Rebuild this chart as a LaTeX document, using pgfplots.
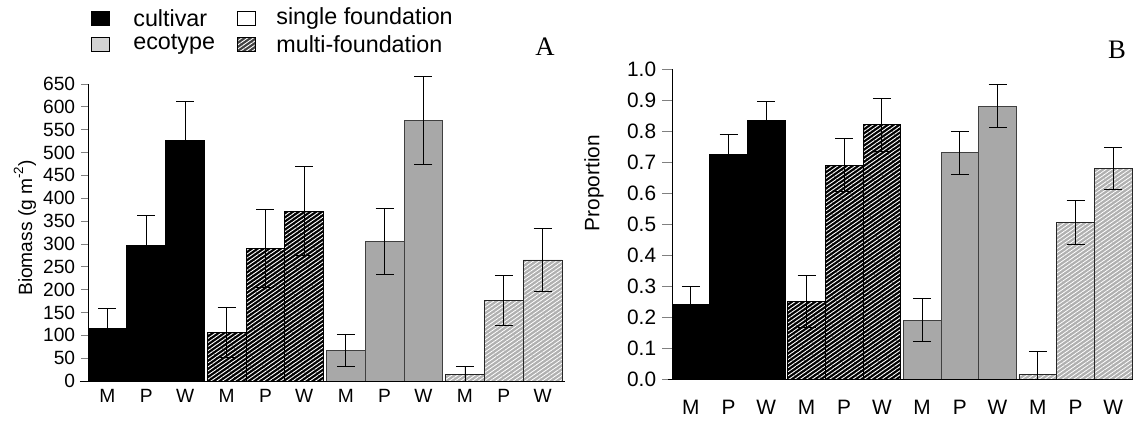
\documentclass[border=0pt]{standalone}
\usepackage{fontspec}
\setmainfont{Liberation Sans}
\newfontfamily\seriffont{Liberation Serif}
\usepackage{pgfplots}
\usepackage{pgfplotstable}
\pgfplotsset{compat=1.18}
\usetikzlibrary{patterns.meta}

\definecolor{ecogray}{HTML}{A8A8A8}
\definecolor{ecolight}{HTML}{D3D3D3}
\definecolor{emgray}{HTML}{B0B0B0}

% Biomass (panel A): x, mean, error up, error down
\pgfplotstableread{
x y ep en
0.5 115 43 43
1.5 297 65 65
2.5 527 85 85
}\Acs
\pgfplotstableread{
x y ep en
3.57 107 55 55
4.57 290 85 85
5.57 372 98 98
}\Acm
\pgfplotstableread{
x y ep en
6.64 67 36 36
7.64 305 72 72
8.64 570 97 97
}\Aes
\pgfplotstableread{
x y ep en
9.71 15 18 15
10.71 176 55 55
11.71 265 68 68
}\Aem
% Proportion (panel B)
\pgfplotstableread{
x y ep en
0.5 0.24 0.06 0.06
1.5 0.725 0.065 0.065
2.5 0.835 0.06 0.06
}\Bcs
\pgfplotstableread{
x y ep en
3.57 0.25 0.085 0.085
4.57 0.69 0.085 0.085
5.57 0.82 0.085 0.085
}\Bcm
\pgfplotstableread{
x y ep en
6.64 0.19 0.07 0.07
7.64 0.73 0.07 0.07
8.64 0.88 0.07 0.07
}\Bes
\pgfplotstableread{
x y ep en
9.71 0.015 0.075 0.015
10.71 0.505 0.07 0.07
11.71 0.68 0.068 0.068
}\Bem

\pgfplotsset{
  errs/.style={error bars/.cd, y dir=both, y explicit,
    error mark=|,
    error bar style={black, line width=0.5pt, solid},
    error mark options={black, mark size=5.4pt, line width=0.5pt}},
  cs/.style={ybar, bar width=1, fill=black, draw=black, line width=0.5pt, errs},
  cm/.style={ybar, bar width=1, fill=black, draw=black, line width=0.5pt,
    postaction={pattern color=white, pattern={Lines[angle=35,distance=2pt,line width=0.55pt]}}, errs},
  es/.style={ybar, bar width=1, fill=ecogray, draw=black!75, line width=0.5pt, errs},
  em/.style={ybar, bar width=1, fill=emgray, draw=black!85, line width=0.5pt,
    postaction={pattern color=white, pattern={Lines[angle=35,distance=2pt,line width=0.5pt]}}, errs},
  panel/.style={
    anchor=south west, scale only axis, clip=false,
    xmin=0, xmax=12.21, ymin=0,
    axis lines*=left,
    x axis line style={draw=none},
    y axis line style={-, line width=0.5pt},
    xtick={0.5,1.5,2.5,3.57,4.57,5.57,6.64,7.64,8.64,9.71,10.71,11.71},
    xticklabels={M,P,W,M,P,W,M,P,W,M,P,W},
    xtick style={draw=none},
    ytick style={line width=0.5pt},
    tick align=outside,
    /pgf/number format/assume math mode=true,
    tick label style={font=\fontsize{11.5}{13}\selectfont},
  },
}

\begin{document}
\begin{tikzpicture}
\path[use as bounding box] (0,0) rectangle (681.6pt,-253.8pt);

% Panel A
\begin{axis}[panel,
  at={(52.8pt,-228.6pt)}, width=284.4pt, height=178.2pt,
  ymax=650, ytick={0,50,...,650},
  major tick length=4.2pt,
  xticklabel style={yshift=3pt},
]
\addplot[cs] table[x=x,y=y,y error plus=ep,y error minus=en] {\Acs};
\addplot[cm] table[x=x,y=y,y error plus=ep,y error minus=en] {\Acm};
\addplot[es] table[x=x,y=y,y error plus=ep,y error minus=en] {\Aes};
\addplot[em] table[x=x,y=y,y error plus=ep,y error minus=en] {\Aem};
\draw[line width=0.5pt] (rel axis cs:-0.017,0) -- (rel axis cs:1.006,0);
\end{axis}

% Panel B
\begin{axis}[panel,
  at={(403.2pt,-227.4pt)}, width=276pt, height=186pt,
  ymax=1, ytick={0,0.1,0.2,0.3,0.4,0.5,0.6,0.7,0.8,0.9,1.0},
  yticklabel style={/pgf/number format/.cd, fixed, fixed zerofill, precision=1},
  major tick length=6pt,
  tick label style={font=\fontsize{12.5}{14}\selectfont},
  xticklabel style={yshift=-3pt},
]
\addplot[cs] table[x=x,y=y,y error plus=ep,y error minus=en] {\Bcs};
\addplot[cm] table[x=x,y=y,y error plus=ep,y error minus=en] {\Bcm};
\addplot[es] table[x=x,y=y,y error plus=ep,y error minus=en] {\Bes};
\addplot[em] table[x=x,y=y,y error plus=ep,y error minus=en] {\Bem};
\draw[line width=0.5pt] (rel axis cs:-0.008,0) -- (rel axis cs:1.003,0);
\end{axis}

\begin{scope}[x=0.6pt,y=-0.6pt]
% axis labels
\node[rotate=90, font=\fontsize{11.5}{13}\selectfont] at (25,228) {Biomass (g m\raisebox{0.9ex}{\fontsize{8}{8}\selectfont -2})};
\node[rotate=90, font=\fontsize{12.5}{14}\selectfont] at (594,183) {Proportion};
% panel letters
\node[font=\seriffont\fontsize{16}{18}\selectfont] at (545,47) {A};
\node[font=\seriffont\fontsize{16}{18}\selectfont] at (1117,50) {B};
% legend
\fill[black] (91,11) rectangle (109,25);
\draw[line width=0.5pt] (91,11) rectangle (109,25);
\node[anchor=west, inner sep=0, font=\fontsize{14}{16}\selectfont] at (133,18) {cultivar};
\draw[line width=0.5pt, fill=white] (237,11) rectangle (255,25);
\node[anchor=west, inner sep=0, font=\fontsize{14}{16}\selectfont] at (276,18) {single foundation};
\draw[line width=0.5pt, fill=ecolight] (91,37) rectangle (109,51);
\node[anchor=west, inner sep=0, font=\fontsize{14}{16}\selectfont] at (133,44) {ecotype};
\fill[black!75] (237,37) rectangle (255,51);
\fill[pattern color=white, pattern={Lines[angle=35,distance=2pt,line width=0.55pt]}] (237,37) rectangle (255,51);
\draw[line width=0.5pt] (237,37) rectangle (255,51);
\node[anchor=west, inner sep=0, font=\fontsize{14}{16}\selectfont] at (276,44) {multi-foundation};
\end{scope}
\end{tikzpicture}
\end{document}
